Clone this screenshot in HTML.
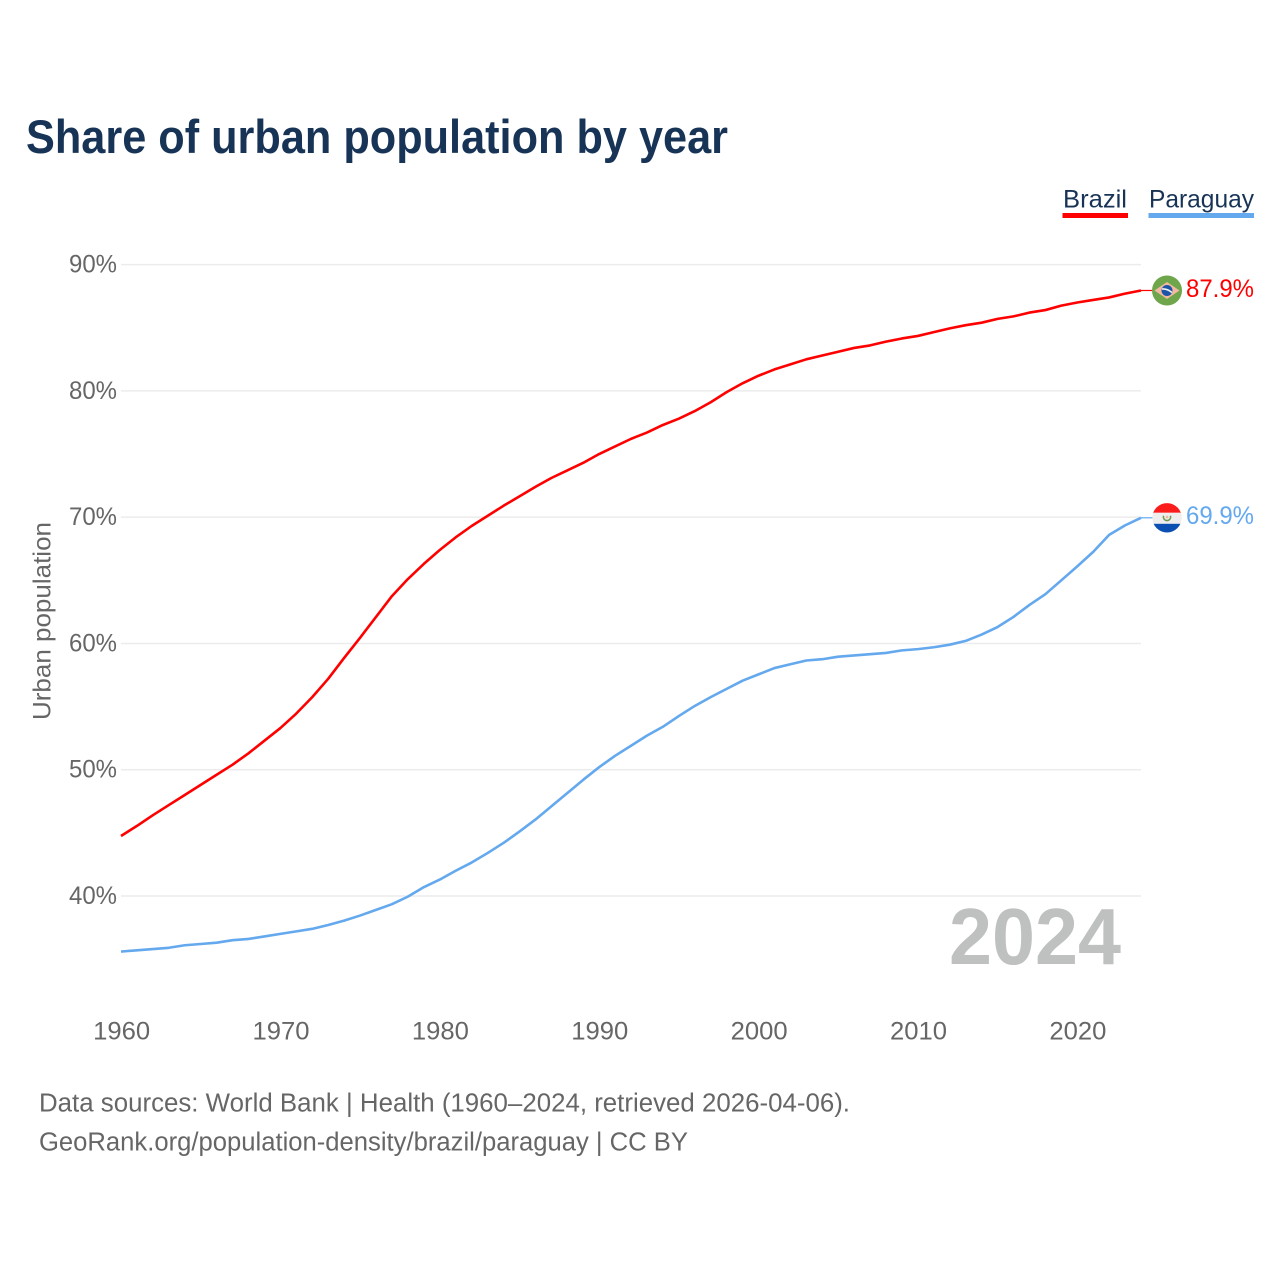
<!DOCTYPE html>
<html lang="en">
<head>
<meta charset="utf-8">
<title>Share of urban population by year</title>
<style>
html,body{margin:0;padding:0;background:#fff;}
svg{display:block;font-family:"Liberation Sans",sans-serif;}
</style>
</head>
<body>
<svg id="chart" width="1280" height="1280" viewBox="0 0 1280 1280" xmlns="http://www.w3.org/2000/svg">
  <rect x="0" y="0" width="1280" height="1280" fill="#ffffff"/>
  <text x="26" y="153" font-size="47" font-weight="700" fill="#173356" textLength="702" lengthAdjust="spacingAndGlyphs">Share of urban population by year</text>

  <g id="gridlines"></g>
  <g id="y-ticks"></g>
  <g id="x-ticks"></g>
  <text transform="translate(50.5,621) rotate(-90)" text-anchor="middle" font-size="25" fill="#666666" textLength="198" lengthAdjust="spacingAndGlyphs">Urban population</text>

  <text x="949" y="964" font-size="80" font-weight="700" fill="#bfc1c0" textLength="172" lengthAdjust="spacingAndGlyphs">2024</text>

  <g id="series"></g>

  <g>
    <g>
      <text x="1063" y="207.5" font-size="25" fill="#173356" textLength="64" lengthAdjust="spacingAndGlyphs">Brazil</text>
      <rect x="1062.5" y="213" width="65.5" height="5" fill="#ff0000"/>
    </g>
    <g>
      <text x="1149" y="207.5" font-size="25" fill="#173356" textLength="105" lengthAdjust="spacingAndGlyphs">Paraguay</text>
      <rect x="1148.5" y="213" width="105.5" height="5" fill="#64a8ee"/>
    </g>
  </g>

  <defs>
    <clipPath id="flag-clip"><circle cx="0" cy="0" r="14.7"/></clipPath>
  </defs>

  <g id="flag-brazil">
    <circle cx="0" cy="0" r="15" fill="#6fa64c"/>
    <polygon points="-12.5,0 0,-8.5 12.5,0 0,8.5" fill="#f3b9a0"/>
    <circle cx="0" cy="0" r="5.5" fill="#1c55a8"/>
    <path d="M-5,-1.5 Q0,-2 5,2" fill="none" stroke="#f2f2f2" stroke-width="1.6"/>
  </g>

  <g id="flag-paraguay">
    <g clip-path="url(#flag-clip)">
      <rect x="-15" y="-15" width="30" height="10" fill="#fb1c1c"/>
      <rect x="-15" y="-5" width="30" height="11" fill="#eeeeee"/>
      <rect x="-15" y="6" width="30" height="9" fill="#0a50b2"/>
    </g>
    <path d="M-3.4,-2 A3.6,3.6 0 1 0 3.4,-2" fill="none" stroke="#6f9a4e" stroke-width="1.5"/>
    <circle cx="0" cy="-0.8" r="1.4" fill="#f2b7a0"/>
  </g>

  <text id="value-label-brazil" x="1186" y="297" font-size="25" fill="#ff0000" textLength="68" lengthAdjust="spacingAndGlyphs">87.9%</text>
  <text id="value-label-paraguay" x="1186" y="525" font-size="25" fill="#64a8ee" textLength="68" lengthAdjust="spacingAndGlyphs">69.9%</text>

  <text x="39" y="1111.5" font-size="25.5" fill="#666666" textLength="811" lengthAdjust="spacingAndGlyphs">Data sources: World Bank | Health (1960–2024, retrieved 2026-04-06).</text>
  <a><text x="39" y="1150.5" font-size="25.5" fill="#666666" textLength="649" lengthAdjust="spacingAndGlyphs">GeoRank.org/population-density/brazil/paraguay | CC BY</text></a>
</svg>
<script>
const firstYear = 1960;
const brazilValues = [44.75,45.55,46.4,47.2,48.0,48.8,49.6,50.4,51.3,52.3,53.3,54.45,55.75,57.2,58.85,60.45,62.1,63.75,65.1,66.3,67.4,68.4,69.3,70.1,70.9,71.65,72.4,73.1,73.7,74.3,75.0,75.6,76.2,76.7,77.3,77.8,78.4,79.1,79.9,80.6,81.2,81.7,82.1,82.5,82.8,83.1,83.4,83.6,83.9,84.15,84.35,84.65,84.95,85.2,85.4,85.7,85.9,86.2,86.4,86.75,87.0,87.2,87.4,87.7,87.95];
const paraguayValues = [35.6,35.7,35.8,35.9,36.1,36.2,36.3,36.5,36.6,36.8,37.0,37.2,37.4,37.7,38.05,38.45,38.9,39.35,39.95,40.7,41.3,42.0,42.65,43.4,44.2,45.1,46.05,47.1,48.15,49.2,50.2,51.1,51.9,52.7,53.4,54.25,55.05,55.75,56.4,57.05,57.55,58.05,58.35,58.65,58.75,58.95,59.05,59.15,59.25,59.45,59.55,59.7,59.9,60.2,60.7,61.3,62.1,63.05,63.9,65.0,66.1,67.25,68.6,69.35,69.95];
const yTickValues = [40,50,60,70,80,90];
const yTickLabels = ["40%","50%","60%","70%","80%","90%"];
const xTickValues = [1960,1970,1980,1990,2000,2010,2020];
const xTickLabels = ["1960","1970","1980","1990","2000","2010","2020"];

const NS = 'http://www.w3.org/2000/svg';
function xScale(year){ return 121 + (year - 1960) * (1020 / 64); }
function yScale(v){ return 896 - (v - 40) * (631.4 / 50); }
function make(tag, attrs, parent, text){
  const el = document.createElementNS(NS, tag);
  for (const k in attrs) el.setAttribute(k, attrs[k]);
  if (text !== undefined) el.textContent = text;
  parent.appendChild(el);
  return el;
}

const gridG = document.getElementById('gridlines');
const yG = document.getElementById('y-ticks');
yTickValues.forEach(function(v, i){
  const line = make('line', {x1: xScale(1960), x2: xScale(2024), y1: yScale(v), y2: yScale(v), stroke: '#ececec', 'stroke-width': 1.5}, gridG);
  
  
  const t = make('text', {x: 117, y: yScale(v) + 8, 'text-anchor': 'end', 'font-size': 25, fill: '#666666', textLength: 48, lengthAdjust: 'spacingAndGlyphs'}, yG, yTickLabels[i]);
  
  
});

const xG = document.getElementById('x-ticks');
xTickValues.forEach(function(yr, i){
  const t = make('text', {x: xScale(yr) + 0.7, y: 1039.5, 'text-anchor': 'middle', 'font-size': 25, fill: '#666666', textLength: 57, lengthAdjust: 'spacingAndGlyphs'}, xG, xTickLabels[i]);
  
  
});

function linePath(values){
  return values.map(function(v, i){
    return (i ? 'L' : 'M') + xScale(firstYear + i).toFixed(2) + ' ' + yScale(v).toFixed(2);
  }).join(' ');
}

const seriesG = document.getElementById('series');

const brazilLine = make('path', {d: linePath(brazilValues), fill: 'none', stroke: '#ff0000', 'stroke-width': 2.6, 'stroke-linejoin': 'round'}, seriesG);



const paraguayLine = make('path', {d: linePath(paraguayValues), fill: 'none', stroke: '#64a8ee', 'stroke-width': 2.6, 'stroke-linejoin': 'round'}, seriesG);



const brazilLast = brazilValues[brazilValues.length - 1];
const paraguayLast = paraguayValues[paraguayValues.length - 1];
const lastX = xScale(firstYear + brazilValues.length - 1);

const brazilLeader = make('line', {x1: lastX, x2: 1153, y1: yScale(brazilLast), y2: yScale(brazilLast), stroke: '#ff0000', 'stroke-width': 1.2}, seriesG);



const paraguayLeader = make('line', {x1: lastX, x2: 1153, y1: yScale(paraguayLast), y2: yScale(paraguayLast), stroke: '#64a8ee', 'stroke-width': 1.2}, seriesG);



document.getElementById('flag-brazil').setAttribute('transform', 'translate(1167,' + yScale(brazilLast).toFixed(2) + ')');
document.getElementById('flag-paraguay').setAttribute('transform', 'translate(1167,' + yScale(paraguayLast).toFixed(2) + ')');
document.getElementById('value-label-brazil').setAttribute('y', (yScale(brazilLast) + 6.3).toFixed(2));
document.getElementById('value-label-paraguay').setAttribute('y', (yScale(paraguayLast) + 6.3).toFixed(2));
</script>
</body>
</html>
